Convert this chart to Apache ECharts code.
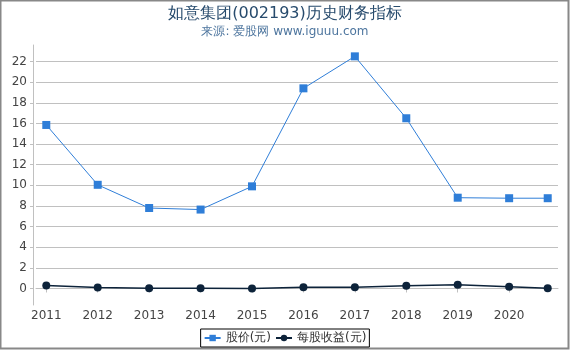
<!DOCTYPE html>
<html>
<head>
<meta charset="utf-8">
<script src="https://cdn.jsdelivr.net/npm/echarts@6/dist/echarts.min.js"></script>
<style>
html, body { margin: 0; padding: 0; background: #fff; }
#main { width: 570px; height: 350px; }
</style>
</head>
<body>
<div id="main"></div>
<script>
// x positions are years (last point is a partial year)
var years = [2011, 2012, 2013, 2014, 2015, 2016, 2017, 2018, 2019, 2020, 2020.75];
var price = [15.85, 10.05, 7.8, 7.65, 9.9, 19.4, 22.5, 16.5, 8.8, 8.75, 8.75];
var eps = [0.29, 0.1, 0.02, 0.02, 0.01, 0.12, 0.13, 0.27, 0.37, 0.17, 0.02];
var xTicks = [2011, 2012, 2013, 2014, 2015, 2016, 2017, 2018, 2019, 2020];
var yTicks = [0, 2, 4, 6, 8, 10, 12, 14, 16, 18, 20, 22];

function pairs(xs, ys) {
    var out = [];
    for (var i = 0; i < xs.length; i++) out.push([xs[i], ys[i]]);
    return out;
}

var chart = echarts.init(document.getElementById('main'), null, {renderer: 'canvas'});
var font = 'DejaVu Sans';

chart.setOption({
    animation: false,
    textStyle: {fontFamily: font},
    graphic: [{
        type: 'rect',
        shape: {x: 0.5, y: 0.5, width: 568, height: 348},
        style: {fill: 'none', stroke: '#888', lineWidth: 2}
    }],
    title: {
        text: '如意集团(002193)历史财务指标',
        subtext: '来源: 爱股网 www.iguuu.com',
        left: 'center',
        top: 1,
        itemGap: 4,
        textStyle: {fontFamily: font, fontSize: 16, fontWeight: 'normal', color: '#274b6d'},
        subtextStyle: {fontFamily: font, fontSize: 12, color: '#4d759e'}
    },
    grid: {left: 36, right: 12, top: 45, bottom: 45},
    xAxis: {
        type: 'value',
        min: 2010.8,
        max: 2020.95,
        axisLine: {lineStyle: {color: '#c0c0c0'}},
        axisTick: {show: true, length: 4, lineStyle: {color: '#c0c0c0'}, customValues: xTicks},
        axisLabel: {
            color: '#444', fontSize: 12, margin: 5, customValues: xTicks, fontFamily: font,
            formatter: function (v) { return String(v); }
        },
        splitLine: {show: false}
    },
    yAxis: {
        type: 'value',
        min: -1.6,
        max: 23.6,
        offset: 3,
        axisLine: {show: true, lineStyle: {color: '#c0c0c0'}},
        axisTick: {show: true, length: 3, lineStyle: {color: '#c0c0c0'}, customValues: yTicks},
        axisLabel: {color: '#444', fontSize: 12, margin: 6, customValues: yTicks, fontFamily: font},
        splitLine: {show: true, lineStyle: {color: '#c0c0c0', width: 1}}
    },
    legend: {
        bottom: 3,
        left: 'center',
        borderColor: '#000',
        borderWidth: 1,
        borderRadius: 0,
        padding: [3, 3],
        itemGap: 4,
        itemWidth: 16,
        itemHeight: 8,
        textStyle: {fontFamily: font, fontSize: 12, color: '#333'},
        data: ['股价(元)', '每股收益(元)']
    },
    series: [
        {
            name: '股价(元)',
            type: 'line',
            data: pairs(years, price),
            symbol: 'rect',
            symbolSize: 8,
            color: '#2f7ed8',
            lineStyle: {width: 1, color: '#2f7ed8'},
            itemStyle: {color: '#2f7ed8'}
        },
        {
            name: '每股收益(元)',
            type: 'line',
            data: pairs(years, eps),
            symbol: 'circle',
            symbolSize: 8,
            color: '#0d233a',
            lineStyle: {width: 1.5, color: '#0d233a'},
            itemStyle: {color: '#0d233a'}
        }
    ]
});
</script>
</body>
</html>
